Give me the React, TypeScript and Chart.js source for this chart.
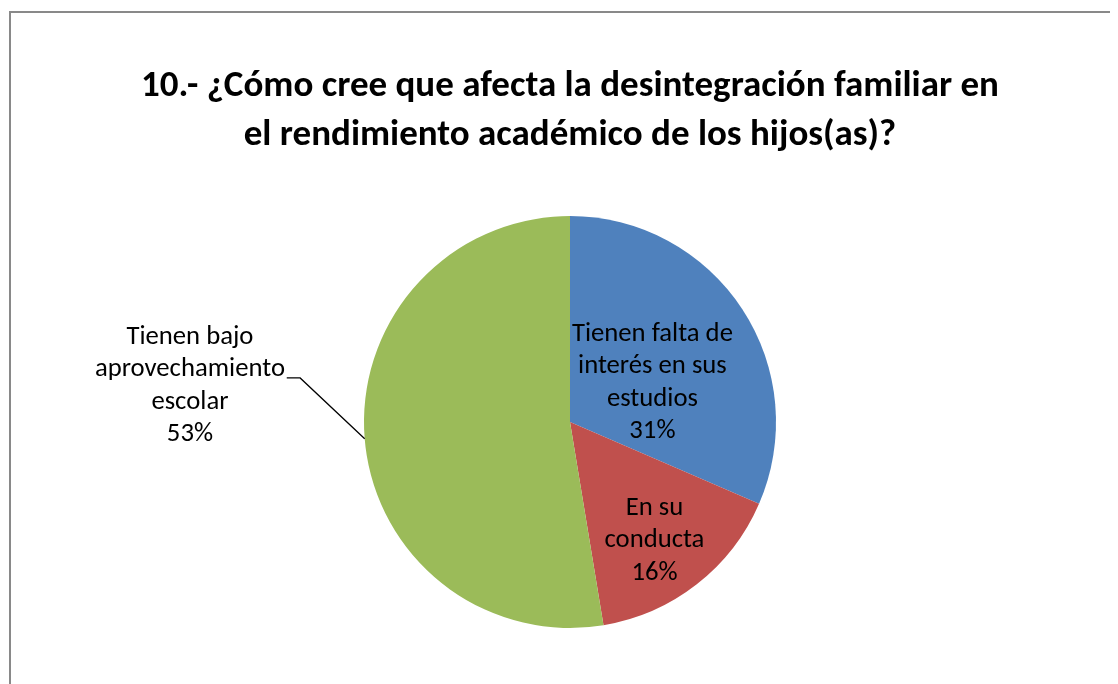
import React, { useEffect, useRef } from "react";
import { Chart, registerables } from "chart.js";

Chart.register(...registerables);

// ---- Data ----
const categories: string[] = [
  "Tienen falta de interés en sus estudios",
  "En su conducta",
  "Tienen bajo aprovechamiento escolar",
];
const labelLines: string[][] = [
  ["Tienen falta de", "interés en sus", "estudios"],
  ["En su", "conducta"],
  ["Tienen bajo", "aprovechamiento", "escolar"],
];
const values: number[] = [31.5, 15.9, 52.6];
const percentLabels: string[] = ["31%", "16%", "53%"];
const titleLines: string[] = [
  "10.- ¿Cómo cree que afecta la desintegración familiar en",
  "el rendimiento académico de los hijos(as)?",
];

// ---- Styles / placement ----
const sliceColors = ["#4F81BD", "#C0504D", "#9BBB59"];
const FONT = "Carlito, Calibri, Lato, 'Open Sans', sans-serif";
const TITLE_SIZE = 37;
const TITLE_LH = 49;
const LABEL_SIZE = 26.7;
const LABEL_LH = 32.5;
// label block centre relative to pie centre, in units of radius
const labelOffsets: [number, number][] = [
  [0.4, -0.19],
  [0.41, 0.575],
  [-1.845, -0.175],
];
// leader lines (in units of radius): elbow point and end x
const leaders: ({ elbow: [number, number]; endX: number } | null)[] = [
  null,
  null,
  { elbow: [-1.31, -0.214], endX: -1.375 },
];

const labelPlugin = {
  id: "sliceLabels",
  afterDatasetsDraw(chart: any) {
    const ctx = chart.ctx as CanvasRenderingContext2D;
    const meta = chart.getDatasetMeta(0);
    meta.data.forEach((arc: any, i: number) => {
      const { x, y, outerRadius: r, startAngle, endAngle } = arc.getProps(
        ["x", "y", "outerRadius", "startAngle", "endAngle"],
        true
      );
      const lines = [...labelLines[i], percentLabels[i]];
      const cx = x + labelOffsets[i][0] * r;
      const cy = y + labelOffsets[i][1] * r;
      ctx.save();
      ctx.font = `${LABEL_SIZE}px ${FONT}`;
      ctx.fillStyle = "#000";
      ctx.textAlign = "center";
      ctx.textBaseline = "middle";
      lines.forEach((t, k) => {
        ctx.fillText(t, cx, cy + (k - (lines.length - 1) / 2) * LABEL_LH);
      });
      const ld = leaders[i];
      if (ld) {
        const mid = (startAngle + endAngle) / 2;
        ctx.beginPath();
        ctx.moveTo(x + Math.cos(mid) * r, y + Math.sin(mid) * r);
        ctx.lineTo(x + ld.elbow[0] * r, y + ld.elbow[1] * r);
        ctx.lineTo(x + ld.endX * r, y + ld.elbow[1] * r);
        ctx.strokeStyle = "#000";
        ctx.lineWidth = 1.3;
        ctx.stroke();
      }
      ctx.restore();
    });
  },
};

export default function App() {
  const canvasRef = useRef<HTMLCanvasElement | null>(null);

  useEffect(() => {
    let chart: Chart | null = null;
    let cancelled = false;
    const make = () => {
      if (cancelled || !canvasRef.current) return;
      chart = new Chart(canvasRef.current, {
        type: "pie",
        data: {
          labels: categories,
          datasets: [
            {
              data: values,
              backgroundColor: sliceColors,
              borderWidth: 0,
              hoverOffset: 0,
              offset: 0,
            } as any,
          ],
        },
        options: {
          animation: false,
          responsive: false,
          events: [],
          layout: { padding: { left: 14, right: 0, top: 0, bottom: 56 } },
          plugins: {
            legend: { display: false },
            tooltip: { enabled: false },
            title: {
              display: true,
              text: titleLines,
              color: "#000",
              font: {
                family: FONT,
                size: TITLE_SIZE,
                weight: "bold",
                lineHeight: TITLE_LH / TITLE_SIZE,
              },
              padding: { top: 54, bottom: 56 },
            },
          },
        } as any,
        plugins: [labelPlugin],
      });
    };
    const fontsReady = (document as any).fonts
      ? Promise.all([
          (document as any).fonts.load(`bold ${TITLE_SIZE}px Carlito`),
          (document as any).fonts.load(`${LABEL_SIZE}px Carlito`),
        ]).catch(() => null)
      : Promise.resolve(null);
    fontsReady.then(make);
    return () => {
      cancelled = true;
      if (chart) chart.destroy();
    };
  }, []);

  return (
    <div
      style={{
        position: "relative",
        width: 1110,
        height: 676,
        overflow: "hidden",
        background: "#fff",
      }}
    >
      <div
        style={{
          position: "absolute",
          left: 1,
          top: 3,
          width: 1200,
          height: 800,
          border: "2px solid #898989",
          boxSizing: "border-box",
        }}
      />
      <canvas
        ref={canvasRef}
        width={1110}
        height={676}
        style={{ position: "absolute", left: 0, top: 0, width: 1110, height: 676 }}
      />
    </div>
  );
}
